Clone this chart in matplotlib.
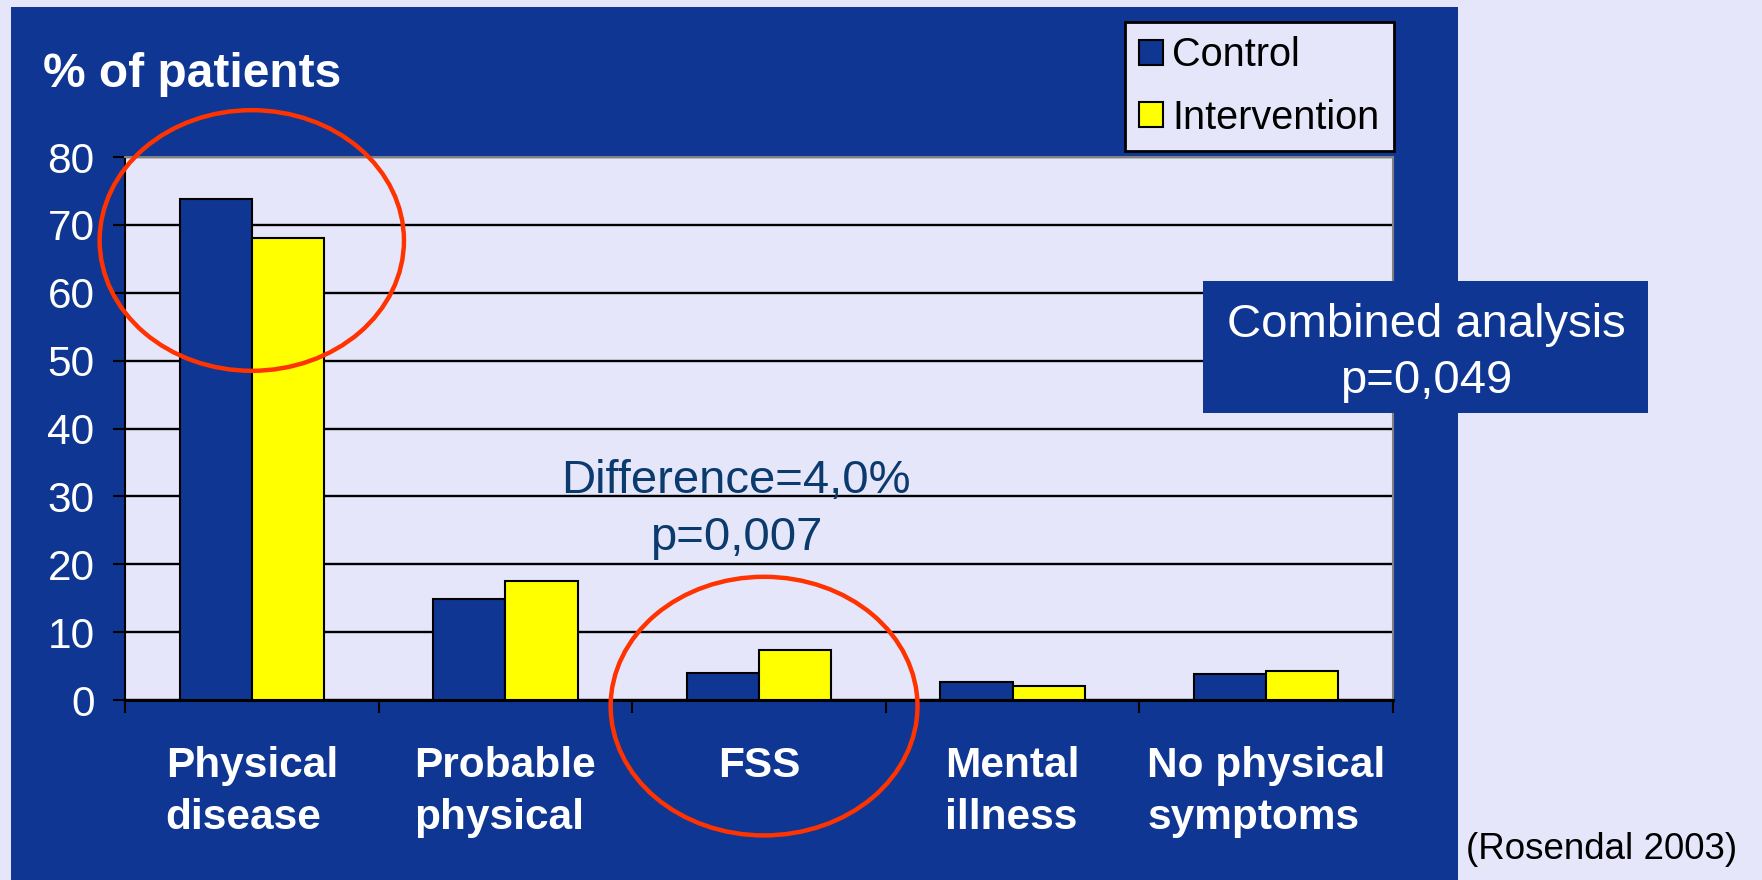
import numpy as np
import matplotlib.pyplot as plt
from matplotlib.patches import Rectangle, Ellipse, Patch

plt.rcParams['font.family'] = ['Liberation Sans', 'DejaVu Sans']

# data
categories = ['Physical\ndisease', 'Probable\nphysical', 'FSS', 'Mental\nillness', 'No physical\nsymptoms']
control = [73.8, 14.9, 4.0, 2.6, 3.9]
intervention = [68.1, 17.5, 7.4, 2.1, 4.3]
series_names = ['Control', 'Intervention']
y_ticks = [0, 10, 20, 30, 40, 50, 60, 70, 80]

navy = '#0e3692'
lavender = '#e6e6fb'
yellow = '#ffff00'
red = '#ff3300'
dark_text = '#0b3a6d'

W, H = 1762, 880
fig = plt.figure(figsize=(W / 100, H / 100), dpi=100, facecolor=lavender)

# blue slide panel
fig.add_artist(Rectangle((11 / W, 0), (1458 - 11) / W, 1 - 7 / H, transform=fig.transFigure,
                         facecolor=navy, edgecolor='none', zorder=-1))

ax = fig.add_axes([125 / W, 1 - 700 / H, (1393 - 125) / W, (700 - 157) / H])
ax.set_facecolor(lavender)

x = np.arange(len(categories))
w = 0.285
ax.bar(x - w / 2, control, w, color=navy, edgecolor='black', linewidth=1.5, label=series_names[0], zorder=3)
ax.bar(x + w / 2, intervention, w, color=yellow, edgecolor='black', linewidth=1.5, label=series_names[1], zorder=3)

ax.set_xlim(-0.5, len(categories) - 0.5)
ax.set_ylim(0, 80)
ax.set_yticks(y_ticks)
ax.yaxis.grid(True, color='black', linewidth=1.7)
ax.set_axisbelow(True)
ax.tick_params(axis='y', labelsize=30.5, labelcolor='white', length=9, width=1.5, color='black', pad=13)

ax.set_xticks(np.arange(-0.5, len(categories)), [''] * (len(categories) + 1))
ax.set_xticks(x, categories, minor=True)
ax.tick_params(axis='x', which='major', length=9, width=1.5, color='black')
ax.tick_params(axis='x', which='minor', length=0, pad=33, labelsize=30.5, labelcolor='white')
for lbl in ax.get_xticklabels(minor=True):
    lbl.set_fontweight('bold')
    lbl.set_multialignment('left')
    lbl.set_linespacing(1.38)

for s in ['top', 'right']:
    ax.spines[s].set_color('#808080')
    ax.spines[s].set_linewidth(1.5)
ax.spines['left'].set_linewidth(1.5)
ax.spines['bottom'].set_linewidth(2.2)

# red highlight circles
ax.add_patch(Ellipse((0, 67.7), 1.2, 38.4, fill=False, edgecolor=red, linewidth=3.2, clip_on=False, zorder=6))
ax.add_patch(Ellipse((2.02, -0.9), 1.21, 38.1, fill=False, edgecolor=red, linewidth=3.2, clip_on=False, zorder=6))

ax.text(1.91, 30.5, 'Difference=4,0%', ha='center', va='baseline', fontsize=34, color=dark_text, zorder=7)
ax.text(1.91, 22.1, 'p=0,007', ha='center', va='baseline', fontsize=34, color=dark_text, zorder=7)

handles = [Patch(facecolor=navy, edgecolor='black', linewidth=1.5, label=series_names[0]),
           Patch(facecolor=yellow, edgecolor='black', linewidth=1.5, label=series_names[1])]
leg = ax.legend(handles=handles, loc='upper right', bbox_to_anchor=(1394 / W, 1 - 22 / H),
                bbox_transform=fig.transFigure, fontsize=28.5, frameon=True, fancybox=False,
                facecolor=lavender, edgecolor='black', framealpha=1, handlelength=0.6,
                handleheight=0.6, handletextpad=0.25, labelspacing=0.62, borderpad=0.36,
                borderaxespad=0)
leg.get_frame().set_linewidth(2)

fig.text(43 / W, 1 - 87 / H, '% of patients', fontsize=34.5, fontweight='bold', color='white', va='baseline')

# combined analysis box
fig.add_artist(Rectangle((1203 / W, 1 - 413 / H), (1648 - 1203) / W, (413 - 281) / H,
                         transform=fig.transFigure, facecolor=navy, edgecolor='none', zorder=5))
fig.text(1426 / W, 1 - 337 / H, 'Combined analysis', ha='center', va='baseline', fontsize=34,
         color='white', zorder=6)
fig.text(1426 / W, 1 - 393 / H, 'p=0,049', ha='center', va='baseline', fontsize=34,
         color='white', zorder=6)

fig.text(1466 / W, 1 - 849 / H, '(Rosendal 2003)', ha='left', va='center', fontsize=26.5, color='black')

fig.savefig('out.png', dpi=100, facecolor=fig.get_facecolor())
